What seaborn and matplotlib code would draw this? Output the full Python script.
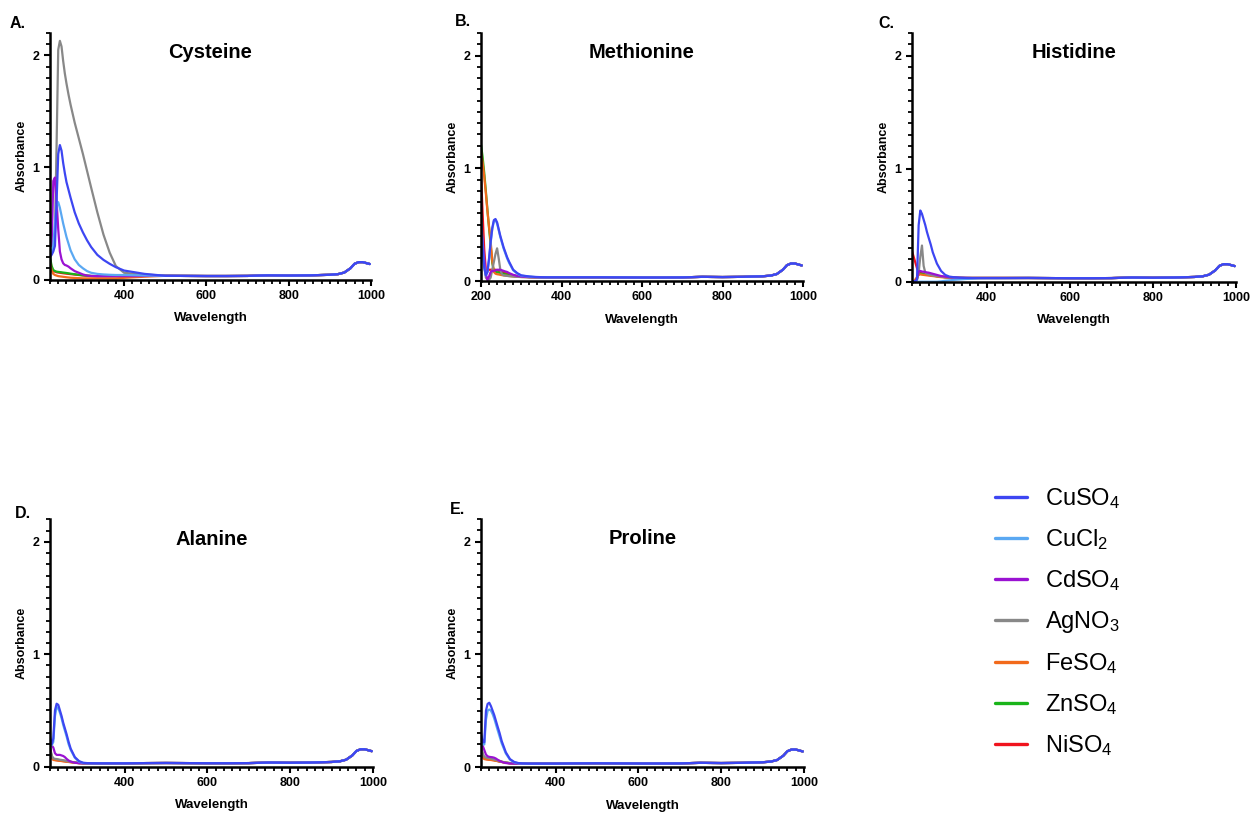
import matplotlib
matplotlib.use("Agg")
import matplotlib.pyplot as plt
from matplotlib.lines import Line2D
from matplotlib.ticker import MultipleLocator
import pandas as pd
import seaborn as sns

# ---------------------------------------------------------------- data
# UV region sampling (nm); Methionine was also recorded from 200 nm
WL_UV = [220, 224, 228, 232, 236, 240, 244, 248, 252, 256, 260, 265, 270,
         280, 290, 300, 310, 320, 335, 350, 365, 380, 400, 425, 450]
WL_UV_MET = [200, 204, 208, 212, 216] + WL_UV

# visible / NIR part of the spectra, common to every sample
WL_NIR = [500, 550, 600, 650, 700, 750, 800, 850, 900, 920, 935, 950, 960,
          970, 980, 990, 997]
ABS_NIR = [0.033, 0.032, 0.031, 0.031, 0.032, 0.037, 0.035, 0.037, 0.042,
           0.048, 0.062, 0.10, 0.14, 0.155, 0.155, 0.145, 0.138]

SALTS = ["CuSO4", "CuCl2", "CdSO4", "AgNO3", "FeSO4", "ZnSO4", "NiSO4"]
SALT_LABELS = [r"CuSO$_4$", r"CuCl$_2$", r"CdSO$_4$", r"AgNO$_3$",
               r"FeSO$_4$", r"ZnSO$_4$", r"NiSO$_4$"]
SALT_COLORS = ["#3D46F2", "#5AA8F2", "#9A12D2", "#888888", "#F26A1B",
               "#19B419", "#F0141E"]

AMINO_ACIDS = ["Cysteine", "Methionine", "Histidine", "Alanine", "Proline"]
PANEL_LETTERS = ["A.", "B.", "C.", "D.", "E."]

# Cysteine
cys_cuso4 = [0.20, 0.22, 0.25, 0.30, 0.70, 1.12, 1.20, 1.15, 1.04, 0.95, 0.87, 0.80, 0.73,
             0.60, 0.50, 0.42, 0.35, 0.29, 0.22, 0.175, 0.14, 0.11, 0.08, 0.065, 0.05]
cys_cucl2 = [0.20, 0.25, 0.30, 0.50, 0.67, 0.69, 0.64, 0.57, 0.50, 0.44, 0.38, 0.32, 0.26,
             0.18, 0.13, 0.10, 0.075, 0.06, 0.05, 0.045, 0.042, 0.04, 0.04, 0.038, 0.036]
cys_cdso4 = [0.29, 0.30, 0.88, 0.91, 0.70, 0.45, 0.25, 0.18, 0.145, 0.13, 0.125, 0.115, 0.10,
             0.075, 0.06, 0.045, 0.035, 0.032, 0.03, 0.03, 0.03, 0.03, 0.03, 0.03, 0.032]
cys_agno3 = [0.30, 0.30, 0.35, 0.42, 1.20, 2.05, 2.13, 2.08, 1.95, 1.84, 1.75, 1.65, 1.56,
             1.40, 1.26, 1.12, 0.97, 0.82, 0.60, 0.40, 0.24, 0.12, 0.06, 0.05, 0.045]
cys_feso4 = [0.15, 0.08, 0.05, 0.04, 0.035, 0.03, 0.028, 0.026, 0.024, 0.022, 0.02, 0.018, 0.016,
             0.014, 0.012, 0.01, 0.01, 0.01, 0.01, 0.01, 0.01, 0.01, 0.015, 0.02, 0.025]
cys_znso4 = [0.20, 0.12, 0.085, 0.075, 0.07, 0.068, 0.066, 0.064, 0.062, 0.06, 0.058, 0.055, 0.052,
             0.047, 0.042, 0.038, 0.035, 0.032, 0.03, 0.03, 0.03, 0.03, 0.03, 0.03, 0.032]
cys_niso4 = [0.18, 0.10, 0.075, 0.07, 0.065, 0.062, 0.06, 0.058, 0.056, 0.054, 0.052, 0.05, 0.048,
             0.044, 0.04, 0.036, 0.033, 0.03, 0.03, 0.03, 0.03, 0.03, 0.03, 0.03, 0.032]

# Methionine (200-450 nm)
met_cuso4 = [0.54, 0.30, 0.12, 0.05, 0.08, 0.20, 0.35, 0.47, 0.54, 0.55, 0.52, 0.46, 0.40, 0.35,
             0.30, 0.26, 0.21, 0.17, 0.10, 0.07, 0.05, 0.045, 0.04, 0.036, 0.034, 0.033, 0.033,
             0.033, 0.033, 0.033]
met_cucl2 = [0.52, 0.29, 0.12, 0.05, 0.08, 0.19, 0.34, 0.46, 0.53, 0.54, 0.51, 0.45, 0.39, 0.34,
             0.29, 0.25, 0.20, 0.16, 0.095, 0.065, 0.048, 0.043, 0.039, 0.035, 0.033, 0.033, 0.033,
             0.033, 0.033, 0.033]
met_cdso4 = [0.50, 0.35, 0.20, 0.06, 0.01, 0.04, 0.08, 0.09, 0.09, 0.095, 0.10, 0.10, 0.10, 0.095,
             0.09, 0.085, 0.08, 0.07, 0.055, 0.045, 0.04, 0.037, 0.035, 0.034, 0.033, 0.033, 0.033,
             0.033, 0.033, 0.033]
met_agno3 = [0.60, 0.35, 0.15, 0.03, 0.01, 0.01, 0.03, 0.10, 0.17, 0.24, 0.29, 0.20, 0.10, 0.06,
             0.05, 0.048, 0.045, 0.043, 0.04, 0.037, 0.035, 0.034, 0.033, 0.033, 0.033, 0.033, 0.033,
             0.033, 0.033, 0.033]
met_feso4 = [1.15, 1.05, 0.93, 0.78, 0.62, 0.48, 0.35, 0.18, 0.08, 0.065, 0.06, 0.058, 0.055, 0.052,
             0.05, 0.048, 0.046, 0.044, 0.04, 0.038, 0.036, 0.035, 0.034, 0.033, 0.033, 0.033, 0.033,
             0.033, 0.033, 0.033]
met_znso4 = [1.21, 1.10, 0.96, 0.80, 0.63, 0.47, 0.32, 0.16, 0.09, 0.08, 0.078, 0.075, 0.072, 0.068,
             0.064, 0.06, 0.055, 0.05, 0.045, 0.04, 0.038, 0.036, 0.035, 0.034, 0.033, 0.033, 0.033,
             0.033, 0.033, 0.033]
met_niso4 = [0.95, 0.60, 0.28, 0.10, 0.09, 0.10, 0.10, 0.10, 0.10, 0.10, 0.095, 0.09, 0.085, 0.08,
             0.075, 0.07, 0.065, 0.06, 0.05, 0.045, 0.04, 0.037, 0.035, 0.034, 0.033, 0.033, 0.033,
             0.033, 0.033, 0.033]

# Histidine
his_cuso4 = [0.005, 0.005, 0.005, 0.02, 0.50, 0.63, 0.60, 0.55, 0.50, 0.44, 0.39, 0.33, 0.26,
             0.16, 0.095, 0.06, 0.045, 0.04, 0.035, 0.033, 0.032, 0.032, 0.032, 0.032, 0.032]
his_cucl2 = [0.0, 0.0, 0.0, 0.0, 0.0, 0.0, 0.0, 0.0, 0.0, 0.0, 0.0, 0.0, 0.0,
             0.0, 0.003, 0.008, 0.012, 0.016, 0.02, 0.024, 0.027, 0.03, 0.031, 0.031, 0.032]
his_cdso4 = [0.0, 0.0, 0.0, 0.03, 0.09, 0.095, 0.09, 0.088, 0.085, 0.082, 0.08, 0.075, 0.07,
             0.06, 0.05, 0.045, 0.04, 0.037, 0.035, 0.034, 0.033, 0.033, 0.033, 0.033, 0.033]
his_agno3 = [0.0, 0.0, 0.0, 0.02, 0.08, 0.22, 0.32, 0.14, 0.08, 0.07, 0.065, 0.06, 0.055,
             0.05, 0.045, 0.04, 0.037, 0.035, 0.034, 0.033, 0.033, 0.033, 0.033, 0.033, 0.033]
his_feso4 = [0.0, 0.0, 0.02, 0.04, 0.06, 0.065, 0.062, 0.06, 0.058, 0.056, 0.054, 0.052, 0.05,
             0.045, 0.04, 0.038, 0.035, 0.034, 0.033, 0.033, 0.033, 0.033, 0.033, 0.033, 0.033]
his_znso4 = [0.0, 0.0, 0.0, 0.02, 0.08, 0.07, 0.068, 0.066, 0.064, 0.062, 0.06, 0.057, 0.054,
             0.048, 0.043, 0.04, 0.037, 0.035, 0.034, 0.033, 0.033, 0.033, 0.033, 0.033, 0.033]
his_niso4 = [0.27, 0.22, 0.17, 0.12, 0.09, 0.08, 0.075, 0.07, 0.068, 0.065, 0.062, 0.058, 0.055,
             0.05, 0.045, 0.04, 0.037, 0.035, 0.034, 0.033, 0.033, 0.033, 0.033, 0.033, 0.033]

# Alanine
ala_cuso4 = [0.27, 0.20, 0.25, 0.50, 0.56, 0.55, 0.50, 0.45, 0.39, 0.34, 0.29, 0.22, 0.16,
             0.085, 0.05, 0.035, 0.032, 0.031, 0.03, 0.03, 0.03, 0.03, 0.03, 0.031, 0.032]
ala_cucl2 = [0.25, 0.19, 0.22, 0.45, 0.53, 0.52, 0.48, 0.43, 0.37, 0.32, 0.27, 0.20, 0.15,
             0.08, 0.045, 0.033, 0.031, 0.03, 0.03, 0.03, 0.03, 0.03, 0.03, 0.031, 0.032]
ala_cdso4 = [0.20, 0.19, 0.17, 0.12, 0.105, 0.105, 0.105, 0.10, 0.095, 0.085, 0.07, 0.055, 0.045,
             0.035, 0.031, 0.03, 0.03, 0.03, 0.03, 0.03, 0.03, 0.03, 0.03, 0.031, 0.032]
ala_agno3 = [0.18, 0.10, 0.075, 0.07, 0.068, 0.065, 0.062, 0.06, 0.057, 0.054, 0.05, 0.047, 0.044,
             0.038, 0.034, 0.032, 0.031, 0.03, 0.03, 0.03, 0.03, 0.03, 0.03, 0.031, 0.032]
ala_feso4 = [0.15, 0.08, 0.06, 0.058, 0.056, 0.054, 0.052, 0.05, 0.048, 0.046, 0.044, 0.042, 0.04,
             0.035, 0.032, 0.031, 0.03, 0.03, 0.03, 0.03, 0.03, 0.03, 0.03, 0.031, 0.032]
ala_znso4 = [0.17, 0.09, 0.07, 0.065, 0.062, 0.06, 0.058, 0.056, 0.054, 0.052, 0.05, 0.046, 0.043,
             0.037, 0.033, 0.031, 0.03, 0.03, 0.03, 0.03, 0.03, 0.03, 0.03, 0.031, 0.032]
ala_niso4 = [0.16, 0.085, 0.065, 0.06, 0.058, 0.056, 0.054, 0.052, 0.05, 0.048, 0.046, 0.044, 0.041,
             0.036, 0.032, 0.031, 0.03, 0.03, 0.03, 0.03, 0.03, 0.03, 0.03, 0.031, 0.032]

# Proline
pro_cuso4 = [0.30, 0.22, 0.22, 0.50, 0.56, 0.57, 0.54, 0.50, 0.46, 0.41, 0.36, 0.30, 0.23,
             0.13, 0.07, 0.045, 0.035, 0.032, 0.03, 0.03, 0.03, 0.03, 0.03, 0.031, 0.032]
pro_cucl2 = [0.28, 0.20, 0.20, 0.42, 0.50, 0.51, 0.50, 0.47, 0.43, 0.38, 0.33, 0.27, 0.21,
             0.12, 0.065, 0.042, 0.033, 0.031, 0.03, 0.03, 0.03, 0.03, 0.03, 0.031, 0.032]
pro_cdso4 = [0.22, 0.19, 0.15, 0.11, 0.095, 0.09, 0.088, 0.086, 0.082, 0.075, 0.065, 0.055, 0.045,
             0.035, 0.031, 0.03, 0.03, 0.03, 0.03, 0.03, 0.03, 0.03, 0.03, 0.031, 0.032]
pro_agno3 = [0.20, 0.12, 0.09, 0.085, 0.08, 0.078, 0.075, 0.07, 0.066, 0.062, 0.058, 0.052, 0.047,
             0.04, 0.035, 0.032, 0.031, 0.03, 0.03, 0.03, 0.03, 0.03, 0.03, 0.031, 0.032]
pro_feso4 = [0.18, 0.09, 0.07, 0.068, 0.066, 0.064, 0.062, 0.06, 0.058, 0.055, 0.052, 0.048, 0.045,
             0.038, 0.033, 0.031, 0.03, 0.03, 0.03, 0.03, 0.03, 0.03, 0.03, 0.031, 0.032]
pro_znso4 = [0.19, 0.10, 0.08, 0.075, 0.072, 0.07, 0.068, 0.065, 0.062, 0.058, 0.055, 0.05, 0.046,
             0.039, 0.034, 0.031, 0.03, 0.03, 0.03, 0.03, 0.03, 0.03, 0.03, 0.031, 0.032]
pro_niso4 = [0.18, 0.095, 0.075, 0.07, 0.068, 0.066, 0.064, 0.062, 0.06, 0.056, 0.053, 0.049, 0.045,
             0.038, 0.033, 0.031, 0.03, 0.03, 0.03, 0.03, 0.03, 0.03, 0.03, 0.031, 0.032]

UV_SPECTRA = {
    "Cysteine": (WL_UV, [cys_cuso4, cys_cucl2, cys_cdso4, cys_agno3, cys_feso4, cys_znso4, cys_niso4]),
    "Methionine": (WL_UV_MET, [met_cuso4, met_cucl2, met_cdso4, met_agno3, met_feso4, met_znso4, met_niso4]),
    "Histidine": (WL_UV, [his_cuso4, his_cucl2, his_cdso4, his_agno3, his_feso4, his_znso4, his_niso4]),
    "Alanine": (WL_UV, [ala_cuso4, ala_cucl2, ala_cdso4, ala_agno3, ala_feso4, ala_znso4, ala_niso4]),
    "Proline": (WL_UV, [pro_cuso4, pro_cucl2, pro_cdso4, pro_agno3, pro_feso4, pro_znso4, pro_niso4]),
}


def spectra_frame(name):
    grid, series = UV_SPECTRA[name]
    rows = []
    for salt, uv in zip(SALTS, series):
        for wl, a in zip(list(grid) + WL_NIR, list(uv) + ABS_NIR):
            rows.append((salt, wl, a))
    return pd.DataFrame(rows, columns=["Salt", "Wavelength", "Absorbance"])


# ---------------------------------------------------------------- style
sns.set_theme(style="ticks")
plt.rcParams["font.family"] = ["Liberation Sans", "DejaVu Sans"]
plt.rcParams.update({
    "mathtext.fontset": "custom",
    "mathtext.rm": "Liberation Sans",
    "mathtext.it": "Liberation Sans:italic",
    "mathtext.bf": "Liberation Sans:bold",
    "axes.edgecolor": "black",
    "xtick.color": "black",
    "ytick.color": "black",
    "text.color": "black",
    "axes.labelcolor": "black",
})

FIG_W, FIG_H = 1252, 814
fig = plt.figure(figsize=(FIG_W / 100, FIG_H / 100), dpi=100)

# axes frames in pixels: left, top, right, bottom
FRAMES = {
    "Cysteine": (50, 33, 371, 279.5),
    "Methionine": (481, 33, 803, 281),
    "Histidine": (912, 33, 1236, 281.7),
    "Alanine": (50, 519.3, 373, 766.7),
    "Proline": (481, 519, 804, 767),
}
LETTER_POS = {
    "Cysteine": (10, 23), "Methionine": (455, 22), "Histidine": (878, 23),
    "Alanine": (15, 513), "Proline": (450, 509),
}
X_START = {"Methionine": 200}

palette = dict(zip(SALTS, SALT_COLORS))
draw_order = SALTS[::-1]  # CuSO4 ends up on top

for name, letter in zip(AMINO_ACIDS, PANEL_LETTERS):
    l, t, r, b = FRAMES[name]
    w_px, h_px = r - l, b - t
    ax = fig.add_axes([l / FIG_W, 1 - b / FIG_H, w_px / FIG_W, h_px / FIG_H])

    sns.lineplot(data=spectra_frame(name), x="Wavelength", y="Absorbance",
                 hue="Salt", hue_order=draw_order, palette=palette,
                 estimator=None, sort=False, linewidth=1.6, legend=False, ax=ax)

    x0 = X_START.get(name, 220)
    ax.set_xlim(x0, 1000)
    ax.set_ylim(0, 2.2)
    ax.set_xticks([v for v in [200, 400, 600, 800, 1000] if v >= x0])
    ax.set_yticks([0, 1, 2])
    ax.xaxis.set_minor_locator(MultipleLocator(20))
    ax.yaxis.set_minor_locator(MultipleLocator(0.1))
    ax.tick_params(which="major", length=4.5, width=1.5, labelsize=9, pad=3)
    ax.tick_params(which="minor", length=3.0, width=1.3)
    plt.setp(ax.get_xticklabels() + ax.get_yticklabels(), fontweight="bold")
    sns.despine(ax=ax)
    for side in ("left", "bottom"):
        ax.spines[side].set_linewidth(1.8)

    ax.set_xlabel("Wavelength", fontsize=9.5, fontweight="bold", va="center")
    ax.set_ylabel("Absorbance", fontsize=9, fontweight="bold", va="center")
    ax.xaxis.set_label_coords(0.5, -38.5 / h_px)
    ax.yaxis.set_label_coords(-28.5 / w_px, 0.5)

    ax.text(0.5, 1 - 20 / h_px, name, transform=ax.transAxes, ha="center",
            va="center", fontsize=14.5, fontweight="bold")
    lx, ly = LETTER_POS[name]
    fig.text(lx / FIG_W, 1 - ly / FIG_H, letter, ha="left", va="center",
             fontsize=11.5, fontweight="bold")

handles = [Line2D([], [], color=c, lw=2.4) for c in SALT_COLORS]
fig.legend(handles, SALT_LABELS, loc="upper left",
           bbox_to_anchor=(995 / FIG_W, 1 - 486 / FIG_H), frameon=False,
           fontsize=17, handlelength=1.36, handletextpad=0.76,
           labelspacing=0.68, borderpad=0, borderaxespad=0)

fig.savefig("out.png", dpi=100)
